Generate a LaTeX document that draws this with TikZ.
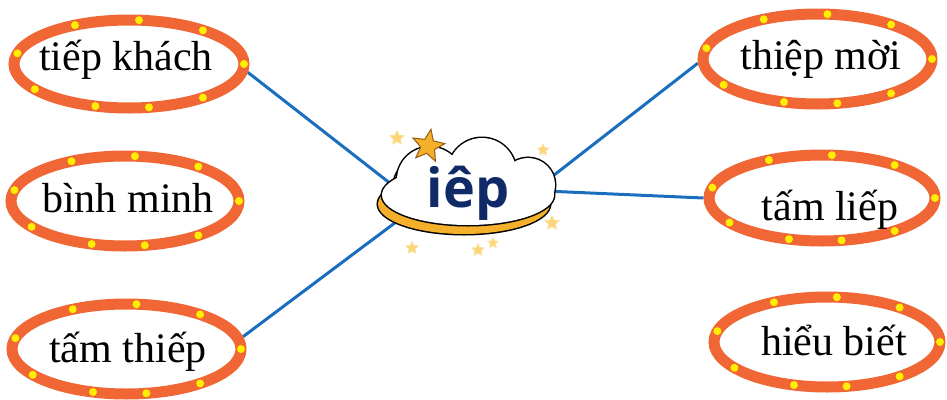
\documentclass[tikz,border=0pt]{standalone}
\usepackage{fontspec}
\setmainfont{Liberation Serif}
\newfontfamily\cloudfont{Open Sans}
\usetikzlibrary{shapes.geometric,backgrounds}
\definecolor{ringorange}{RGB}{240,102,52}
\definecolor{dotyellow}{RGB}{255,238,0}
\definecolor{linkblue}{RGB}{26,110,192}
\definecolor{navy}{RGB}{16,42,104}
\definecolor{cloudgold}{RGB}{244,176,42}
\definecolor{starpale}{RGB}{250,214,120}
\definecolor{starline}{RGB}{150,90,20}
\begin{document}
\begin{tikzpicture}[x=1pt,y=-1pt,
  ring/.style={ellipse, draw=ringorange, line width=11pt, fill=white, inner sep=0pt},
  word/.style={font=\fontsize{42}{48}\selectfont, inner sep=0pt},
  link/.style={draw=linkblue, line width=3pt},
  dotmark/.style={circle, fill=dotyellow, minimum size=8pt, inner sep=0pt},
  bigstar/.style={star, star points=5, star point ratio=2.3, fill=cloudgold, draw=starline, line width=1pt, inner sep=0pt},
  smallstar/.style={star, star points=5, star point ratio=2.1, fill=starpale, draw=starpale!70!white, line width=0.8pt, inner sep=0pt},
  ]
\useasboundingbox (0,0) rectangle (947,399);

% ellipses with dots
\foreach \n/\cx/\cy/\rx/\ry in {1/129/64/115/44, 2/125/201/114/45, 3/126.5/349/114.5/45, 4/817.5/59/114.5/45, 5/822/198/113/43, 6/827/342/113/45}{
  \node[ring, minimum width=2*\rx pt, minimum height=2*\ry pt] (e\n) at (\cx,\cy) {};
  \foreach \a in {0,50,85,118,166,215,253,280,310}{
    \node[dotmark] (d\n-\a) at ({\cx+\rx*cos(\a)},{\cy-\ry*sin(\a)}) {};
  }
}

% texts
\node[word] (t1) at (126,60) {tiếp khách};
\node[word] (t2) at (128,198) {bình minh};
\node[word] (t3) at (128,352) {tấm thiếp};
\node[word] (t4) at (821,59) {thiệp mời};
\node[word] (t5) at (830,210) {tấm liếp};
\node[word] (t6) at (834,340) {hiểu biết};

% cloud anchor coordinates
\coordinate (c1) at (400,191);
\coordinate (c3) at (400,219);
\coordinate (c4) at (540,186);
\coordinate (c5) at (545,191);

\begin{scope}[on background layer]
  \draw[link] (e1.-4) -- (c1);
  \draw[link] (e3.6) -- (c3);
  \draw[link] (e4.182) -- (c4);
  \draw[link] (e5.180) -- (c5);
\end{scope}

% cloud shadow
\begin{scope}[shift={(-4,9)}]
  \path[draw=black, line width=3pt] (468,195) ellipse[x radius=86pt, y radius=30pt]
     (430,180) circle[radius=33pt] (482,172) circle[radius=34pt] (528,185) circle[radius=27pt];
  \path[fill=cloudgold] (468,195) ellipse[x radius=86pt, y radius=30pt]
     (430,180) circle[radius=33pt] (482,172) circle[radius=34pt] (528,185) circle[radius=27pt];
\end{scope}
% cloud body
\path[draw=black, line width=3pt] (468,195) ellipse[x radius=86pt, y radius=30pt]
   (430,180) circle[radius=33pt] (482,172) circle[radius=34pt] (528,185) circle[radius=27pt];
\path[fill=white] (468,195) ellipse[x radius=86pt, y radius=30pt]
   (430,180) circle[radius=33pt] (482,172) circle[radius=34pt] (528,185) circle[radius=27pt];

% stars
\node[bigstar, minimum size=34pt, rotate=-10] (s0) at (428,146) {};
\node[smallstar, minimum size=15pt] (s1) at (397,138) {};
\node[smallstar, minimum size=12pt] (s2) at (543,150) {};
\node[smallstar, minimum size=15pt] (s3) at (552,223) {};
\node[smallstar, minimum size=13pt] (s4) at (412,248) {};
\node[smallstar, minimum size=13pt] (s5) at (478,250) {};
\node[smallstar, minimum size=11pt] (s6) at (493,243) {};

% centre word
\node[font=\cloudfont\bfseries\fontsize{54}{60}\selectfont, text=navy, inner sep=0pt] (core) at (468,193) {iêp};
\end{tikzpicture}
\end{document}
